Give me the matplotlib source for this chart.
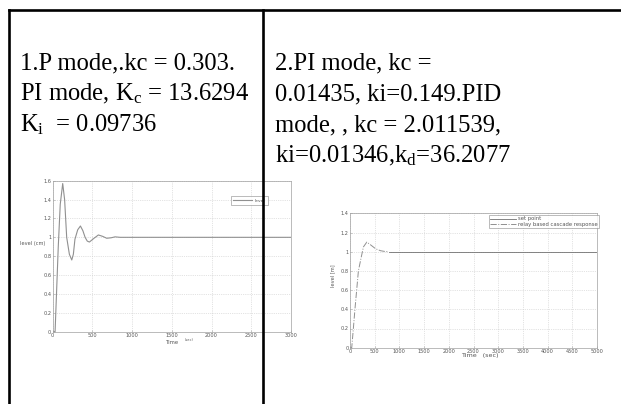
import matplotlib
matplotlib.use("Agg")
import matplotlib.pyplot as plt
from matplotlib.lines import Line2D

plt.rcParams['mathtext.fontset'] = 'custom'
plt.rcParams['mathtext.rm'] = 'Liberation Serif'
plt.rcParams['mathtext.it'] = 'Liberation Serif:italic'

# ---- data ----
left_lines = ["1.P mode,.kc = 0.303.",
              r"PI mode, K$_{\rm c}$ = 13.6294",
              r"K$_{\rm i}$  = 0.09736"]
right_lines = ["2.PI mode, kc =",
               "0.01435, ki=0.149.PID",
               "mode, , kc = 2.011539,",
               r"ki=0.01346,k$_{\rm d}$=36.2077"]

t1 = [0, 30, 50, 70, 95, 126, 150, 176, 210, 240, 260, 280, 315, 349, 380,
      408, 435, 462, 520, 575, 630, 680, 735, 785, 850, 1000, 3000]
y1 = [0, 0, 0.45, 0.9, 1.35, 1.57, 1.4, 1.0, 0.82, 0.76, 0.82, 0.98, 1.08,
      1.12, 1.07, 1.0, 0.96, 0.95, 0.99, 1.025, 1.01, 0.99, 0.995, 1.005,
      1.0, 1.0, 1.0]
xticks1 = [0, 500, 1000, 1500, 2000, 2500, 3000]
yticks1 = [0, 0.2, 0.4, 0.6, 0.8, 1, 1.2, 1.4, 1.6]

t2 = [0, 35, 68, 100, 135, 170, 218, 272, 340, 420, 520, 620, 700, 785]
y2 = [0, 0, 0.2, 0.4, 0.6, 0.8, 0.92, 1.05, 1.1, 1.07, 1.03, 1.01, 1.003, 1.0]
sp_t = [785, 5000]
sp_y = [1, 1]
xticks2 = list(range(0, 5001, 500))
yticks2 = [0, 0.2, 0.4, 0.6, 0.8, 1, 1.2, 1.4]

W, H = 621, 404
fig = plt.figure(figsize=(W / 100, H / 100), dpi=100)

def px(x, y):
    return x / W, 1 - y / H

# table borders
for (x0, y0, x1, y1_) in [(9, 9.5, 621, 9.5), (8.7, 9.5, 8.7, 404), (262.8, 9.5, 262.8, 404)]:
    a, b = px(x0, y0)
    c, d = px(x1, y1_)
    fig.add_artist(Line2D([a, c], [b, d], color='black', lw=1.9, transform=fig.transFigure))

# cell texts
fs_main = 17.7
for i, s in enumerate(left_lines):
    x, y = px(20, 63 + 31 * i)
    fig.text(x, y, s, fontsize=fs_main, family='Liberation Serif', va='center', ha='left')
for i, s in enumerate(right_lines):
    x, y = px(275, 63 + 31 * i)
    fig.text(x, y, s, fontsize=fs_main, family='Liberation Serif', va='center', ha='left')

tick_fs = 3.6
grey = '#909090'
txtc = '#555555'

def style(ax):
    for sp in ax.spines.values():
        sp.set_color('#a0a0a0')
        sp.set_linewidth(0.5)
    ax.tick_params(labelsize=tick_fs, length=1.5, width=0.4, pad=1.0, direction='in',
                   colors='#a0a0a0', labelcolor=txtc)
    ax.grid(True, linestyle=':', color='#c8c8c8', linewidth=0.5)

# plot 1
ax1 = fig.add_axes([52.7 / W, 1 - 331.7 / H, (291 - 52.7) / W, (331.7 - 180.7) / H])
ax1.plot(t1, y1, color=grey, lw=0.8, label='level')
ax1.set_xlim(0, 3000)
ax1.set_ylim(0, 1.6)
ax1.set_xticks(xticks1)
ax1.set_yticks(yticks1)
ax1.set_yticklabels(['0', '0.2', '0.4', '0.6', '0.8', '1', '1.2', '1.4', '1.6'])
style(ax1)
leg = ax1.legend(loc='upper right', bbox_to_anchor=(0.903, 0.899), borderaxespad=0,
                 fontsize=3.2, frameon=True, fancybox=False, handlelength=4.2,
                 handletextpad=0.6, borderpad=0.6, labelcolor=txtc)
leg.get_frame().set_edgecolor('#888888')
leg.get_frame().set_linewidth(0.5)
x, y = px(45, 244)
fig.text(x, y, 'level (cm)', fontsize=3.6, color=txtc, ha='right', va='center')
x, y = px(172.7, 342.7)
fig.text(x, y, 'Time', fontsize=3.8, color=txtc, ha='center', va='center')
x, y = px(189, 340)
fig.text(x, y, '(sec)', fontsize=2.6, color=txtc, ha='center', va='center')

# plot 2
ax2 = fig.add_axes([350 / W, 1 - 347.7 / H, (597 - 350) / W, (347.7 - 213.3) / H])
ax2.plot(sp_t, sp_y, color='#707070', lw=0.6, label='set point')
ax2.plot(t2, y2, color=grey, lw=0.7, linestyle='-.', label='relay based cascade response')
ax2.set_xlim(0, 5000)
ax2.set_ylim(0, 1.4)
ax2.set_xticks(xticks2)
ax2.set_yticks(yticks2)
ax2.set_yticklabels(['0', '0.2', '0.4', '0.6', '0.8', '1', '1.2', '1.4'])
style(ax2)
leg2 = ax2.legend(loc='upper right', bbox_to_anchor=(1.008, 0.987), borderaxespad=0,
                  fontsize=3.8, frameon=True, fancybox=False,
                  handlelength=5.0, handletextpad=0.3, borderpad=0.25, labelspacing=0.15,
                  labelcolor=txtc)
leg2.get_frame().set_edgecolor('#888888')
leg2.get_frame().set_linewidth(0.5)
x, y = px(333, 276)
fig.text(x, y, 'level [m]', fontsize=3.6, color=txtc, ha='center', va='center', rotation=90)
x, y = px(480, 355.5)
fig.text(x, y, 'Time   (sec)', fontsize=4.6, color=txtc, ha='center', va='center')

fig.savefig('out.png', dpi=100)
